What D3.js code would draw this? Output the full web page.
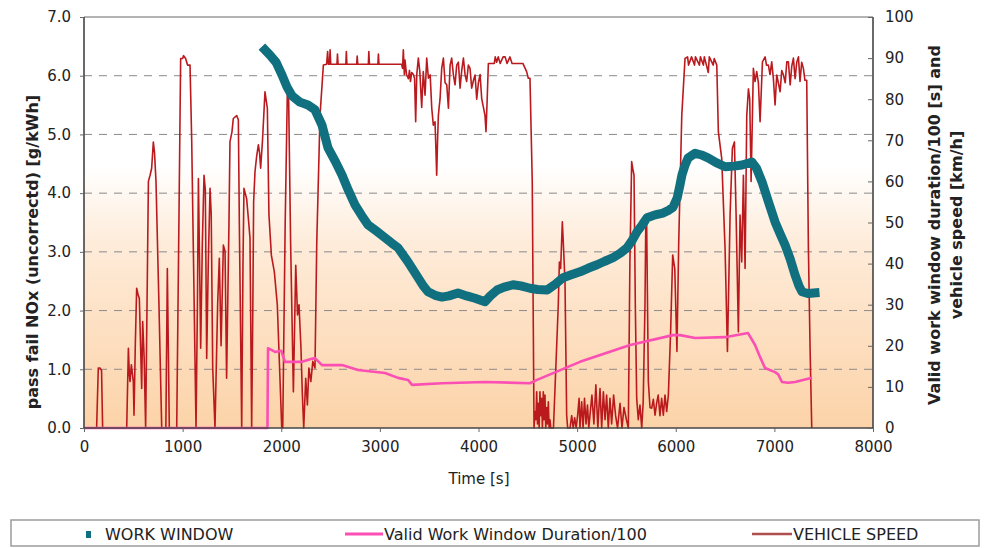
<!DOCTYPE html>
<html>
<head>
<meta charset="utf-8">
<script src="https://cdn.jsdelivr.net/npm/d3@7"></script>
<style>
  html, body { margin: 0; padding: 0; background: #ffffff; }
  svg { display: block; }
  text { font-family: "DejaVu Sans", Verdana, sans-serif; fill: #222; }
</style>
</head>
<body>
<svg id="chart" width="984" height="548"></svg>
<script>
// ---- axis tick labels ----
const timeTicks = [0, 1000, 2000, 3000, 4000, 5000, 6000, 7000, 8000];
const noxTicks = [0, 1, 2, 3, 4, 5, 6, 7];
const rightTicks = [0, 10, 20, 30, 40, 50, 60, 70, 80, 90, 100];

// ---- WORK WINDOW: pass/fail NOx [g/kWh] over time [s] ----
const workWindowTime = [1835, 1886, 1947, 2008, 2058, 2109, 2190, 2271, 2342, 2413, 2474, 2545, 2616, 2680, 2748, 2815, 2880, 2960, 3052, 3120, 3184, 3285, 3387, 3440, 3488, 3560, 3630, 3700, 3792, 3880, 3965, 4015, 4066, 4120, 4188, 4260, 4350, 4430, 4522, 4600, 4695, 4780, 4857, 4940, 5029, 5110, 5202, 5280, 5364, 5440, 5506, 5560, 5607, 5660, 5709, 5790, 5871, 5930, 5972, 6015, 6043, 6063, 6095, 6125, 6196, 6260, 6327, 6410, 6500, 6590, 6672, 6773, 6820, 6875, 6940, 7007, 7060, 7108, 7160, 7209, 7250, 7280, 7340, 7412];
const workWindowNox = [6.44, 6.35, 6.23, 6.01, 5.81, 5.66, 5.55, 5.50, 5.42, 5.16, 4.77, 4.55, 4.31, 4.05, 3.80, 3.62, 3.46, 3.36, 3.24, 3.15, 3.07, 2.83, 2.56, 2.42, 2.32, 2.26, 2.23, 2.25, 2.30, 2.25, 2.21, 2.18, 2.15, 2.25, 2.35, 2.40, 2.44, 2.42, 2.38, 2.36, 2.35, 2.45, 2.56, 2.61, 2.66, 2.72, 2.78, 2.84, 2.90, 2.98, 3.07, 3.20, 3.34, 3.46, 3.58, 3.63, 3.66, 3.71, 3.76, 3.92, 4.14, 4.31, 4.48, 4.60, 4.68, 4.65, 4.60, 4.52, 4.45, 4.46, 4.48, 4.53, 4.42, 4.19, 3.85, 3.51, 3.30, 3.12, 2.88, 2.61, 2.42, 2.32, 2.29, 2.30];

// ---- Valid Work Window Duration/100 [s] ----
const durationTime = [0, 1860, 1866, 1900, 1937, 2000, 2038, 2210, 2300, 2342, 2413, 2616, 2778, 3052, 3184, 3285, 3326, 3630, 4066, 4522, 4593, 5029, 5537, 5972, 6043, 6196, 6500, 6733, 6804, 6860, 6905, 7007, 7040, 7077, 7140, 7209, 7382];
const durationValue = [0, 0, 19.4, 19.0, 18.5, 18.8, 16.1, 16.1, 16.8, 17.0, 15.3, 15.3, 14.1, 13.4, 12.2, 11.7, 10.5, 10.9, 11.2, 10.9, 11.7, 16.1, 20.2, 22.6, 22.6, 21.9, 22.1, 23.1, 20.2, 17.0, 14.6, 13.6, 13.0, 11.2, 11.0, 11.2, 12.2];

// ---- VEHICLE SPEED [km/h]: [time s, speed] ----
const speedSeries = [
  [0, 0], [128, 0], [145, 14.6], [150, 14.6], [162, 14.6], [178, 14], [189, 0],
  [433, 0], [450, 19.4], [460, 13], [467, 11.3], [480, 15.4], [500, 11.3], [507, 3.1], [520, 20], [534, 34], [548, 32.5], [561, 31.5], [585, 9.6], [595, 25.9], [610, 17], [625, 0],
  [653, 60], [670, 61.5], [686, 63.2], [703, 69.6], [715, 67], [730, 60], [760, 30], [788, 0],
  [830, 0], [845, 38.8], [865, 0],
  [940, 0], [980, 89.9], [1000, 89.9], [1010, 90.6], [1030, 89.9], [1050, 88.3], [1075, 88.3], [1092, 70], [1136, 0],
  [1150, 30], [1160, 60.7], [1172, 40], [1183, 19.4], [1200, 45], [1217, 61.5], [1230, 58], [1244, 16.9], [1260, 40], [1278, 58.3], [1290, 52], [1305, 14.6], [1328, 0],
  [1355, 30], [1372, 41.3], [1390, 20], [1413, 44.5], [1430, 43], [1446, 12.1], [1470, 50], [1480, 69.6], [1500, 72], [1514, 75.3], [1548, 76], [1565, 75], [1575, 50], [1599, 0],
  [1612, 40], [1622, 58.3], [1649, 55.8], [1670, 50], [1683, 46.2], [1700, 0],
  [1712, 30], [1720, 55], [1734, 62.4], [1750, 66], [1768, 68.9], [1780, 67], [1791, 63.2], [1810, 70], [1835, 81.8], [1859, 77.8], [1875, 52], [1900, 42], [1930, 38], [1960, 30], [2005, 0],
  [2015, 0], [2040, 50], [2062, 82], [2075, 80], [2095, 45], [2123, 8.8], [2147, 39.6], [2165, 27.5], [2180, 30], [2200, 19.4], [2213, 8.8], [2228, 0], [2248, 12.1], [2265, 5.6], [2280, 14.6], [2300, 11.3], [2320, 16.2], [2342, 14.6], [2360, 45], [2393, 76], [2427, 88.3],
  [2460, 88.5], [2470, 91.6], [2478, 88.5], [2490, 88.5], [2495, 92], [2502, 88.5], [2565, 88.5], [2570, 91], [2576, 88.5], [2655, 88.5], [2660, 91.6], [2666, 88.5], [2765, 88.5], [2770, 90.5], [2776, 88.5], [2883, 88.5], [2888, 91.6], [2894, 88.5], [2980, 88.5], [2985, 91], [2991, 88.5], [3221, 88.5],
  [3230, 87.5], [3238, 92], [3248, 86], [3255, 89.5], [3270, 86], [3289, 85], [3300, 87], [3310, 84.3], [3323, 86.5], [3340, 86], [3352, 85], [3363, 74.5], [3374, 86], [3390, 90], [3405, 86.7], [3424, 78], [3440, 86.7], [3458, 81], [3475, 90], [3492, 85.1], [3510, 85.9], [3526, 77.8], [3542, 73.7], [3559, 74.5], [3568, 68], [3576, 61.5], [3585, 70], [3593, 76], [3600, 77.8], [3610, 80], [3627, 87.5], [3644, 90], [3661, 84], [3678, 83.5], [3695, 77.8], [3712, 88.3], [3728, 90], [3745, 86], [3762, 83.5], [3779, 88.3], [3796, 89], [3813, 82.7], [3830, 87], [3847, 90], [3864, 85.9], [3880, 84.3], [3897, 88.3], [3914, 87.5], [3931, 82.7], [3948, 84.5], [3965, 85.9], [3982, 80], [3999, 84], [4016, 86], [4033, 80], [4050, 78], [4066, 76], [4076, 72.1], [4088, 80], [4100, 88.7],
  [4160, 88.7], [4170, 90.3], [4184, 89], [4200, 90.3], [4220, 88.7], [4250, 90.3], [4270, 90.3], [4290, 88.7], [4319, 90.3], [4340, 88.7], [4400, 88.7], [4450, 88.7], [4488, 86.7], [4505, 85.1], [4522, 85.1], [4545, 60], [4563, 0],
  [4573, 4], [4582, 2], [4590, 8.8], [4598, 1], [4607, 6], [4615, 0], [4623, 8.8], [4632, 3], [4640, 7.2], [4648, 0], [4657, 8.8], [4665, 2], [4674, 8], [4682, 0], [4691, 5], [4700, 1], [4708, 6.4], [4716, 0], [4725, 2], [4733, 0], [4760, 0],
  [4809, 30], [4820, 40.4], [4833, 38.8], [4850, 50.2], [4860, 45], [4877, 35.6], [4894, 3.1], [4904, 0], [4928, 0],
  [4945, 3], [4960, 0], [4975, 2.5], [4990, 0], [5005, 3.1], [5020, 7.2], [5029, 0], [5046, 6.4], [5060, 0], [5075, 7.2], [5090, 1], [5105, 5.6], [5118, 0], [5130, 3], [5150, 8], [5170, 1], [5190, 10.5], [5210, 0], [5232, 9.6], [5249, 0], [5266, 8.8], [5283, 2], [5299, 8], [5316, 0], [5333, 7.2], [5350, 1], [5370, 8], [5390, 3], [5410, 0], [5435, 6], [5455, 0], [5475, 5], [5500, 2], [5519, 0],
  [5535, 40], [5553, 64.8], [5565, 63], [5577, 61.5], [5590, 30], [5604, 7.2], [5620, 2], [5637, 5.6], [5655, 0], [5670, 6.4], [5688, 30], [5697, 51.8], [5705, 50], [5722, 11.3], [5739, 5], [5756, 4.8], [5773, 7], [5790, 3.1], [5806, 6], [5822, 8], [5840, 3], [5857, 7.2], [5874, 3.1], [5891, 8], [5908, 4], [5925, 8], [5948, 23.4], [5969, 42.1], [5990, 38.8], [6012, 18.6], [6030, 45], [6061, 76], [6094, 89.9],
  [6120, 90.3], [6130, 88.3], [6160, 90.3], [6190, 88.3], [6200, 90.3], [6240, 88.3], [6250, 90.3], [6280, 88.3], [6290, 90.3], [6330, 86.5], [6340, 90.3], [6380, 88.3], [6390, 89.9], [6416, 88.3],
  [6432, 72.1], [6466, 65.6], [6500, 43.7], [6524, 18.6], [6551, 51.8], [6574, 68], [6595, 69.6], [6612, 51.8], [6635, 23.4], [6652, 51.8], [6669, 40.4], [6686, 61.5], [6703, 38.8], [6720, 76], [6737, 82.5], [6750, 80], [6764, 60], [6787, 87.5], [6804, 84.3], [6821, 86.7], [6838, 84], [6855, 74.5], [6879, 89.1], [6906, 90.3], [6920, 88.3], [6939, 88.3], [6956, 86], [6973, 89.1], [6990, 85], [7007, 78.6], [7024, 85.9], [7040, 84], [7058, 81.8], [7075, 87], [7092, 85.9], [7110, 84], [7126, 89.1], [7142, 89.1], [7160, 83.5], [7176, 88], [7193, 90], [7210, 85], [7227, 89], [7244, 90.3], [7260, 84.3], [7277, 89], [7294, 87.5], [7310, 84.6], [7328, 84.6], [7345, 43.7], [7362, 19.4], [7379, 0]
];

const legendLabels = ["WORK WINDOW", "Valid Work Window Duration/100", "VEHICLE SPEED"];

// ---- layout ----
const svg = d3.select("#chart");
const plotLeft = 84, plotRight = 873, plotTop = 17, plotBottom = 428;

const x = d3.scaleLinear().domain([0, 8000]).range([plotLeft, plotRight]);
const yL = d3.scaleLinear().domain([0, 7]).range([plotBottom, plotTop]);
const yR = d3.scaleLinear().domain([0, 100]).range([plotBottom, plotTop]);

const COL_WORK = "#11707f";
const COL_DUR = "#fb4fb4";
const COL_SPEED = "#ba1a1e";

// plot background: white at the top fading into a light orange
const defs = svg.append("defs");
const grad = defs.append("linearGradient")
  .attr("id", "bg").attr("x1", 0).attr("y1", 0).attr("x2", 0).attr("y2", 1);
[[0, "#ffffff"], [0.36, "#ffffff"], [0.55, "#feecda"], [0.75, "#fde0c3"], [1, "#fcd3a8"]]
  .forEach(([o, c]) => grad.append("stop").attr("offset", o).attr("stop-color", c));

svg.append("rect")
  .attr("x", plotLeft).attr("y", plotTop)
  .attr("width", plotRight - plotLeft).attr("height", plotBottom - plotTop)
  .attr("fill", "url(#bg)");

// dashed horizontal gridlines on the NOx axis
svg.append("g").selectAll("line")
  .data(noxTicks.filter(d => d > 0 && d < 7))
  .join("line")
  .attr("x1", plotLeft).attr("x2", plotRight)
  .attr("y1", d => yL(d)).attr("y2", d => yL(d))
  .attr("stroke", "#8a8a8a").attr("stroke-width", 1)
  .attr("stroke-dasharray", "8,7");

// top border
svg.append("line")
  .attr("x1", plotLeft).attr("x2", plotRight).attr("y1", plotTop).attr("y2", plotTop)
  .attr("stroke", "#9a9a9a").attr("stroke-width", 1.5);

// ---- series ----
const speedLine = d3.line().x(d => x(d[0])).y(d => yR(d[1]));
svg.append("path")
  .datum(speedSeries)
  .attr("d", speedLine)
  .attr("fill", "none")
  .attr("stroke", COL_SPEED).attr("stroke-width", 1.6)
  .attr("stroke-linejoin", "round");

const durLine = d3.line().x(d => x(d[0])).y(d => yR(d[1]));
svg.append("path")
  .datum(d3.zip(durationTime, durationValue))
  .attr("d", durLine)
  .attr("fill", "none")
  .attr("stroke", COL_DUR).attr("stroke-width", 2.6)
  .attr("stroke-linejoin", "round");

const workLine = d3.line().x(d => x(d[0])).y(d => yL(d[1]));
svg.append("path")
  .datum(d3.zip(workWindowTime, workWindowNox))
  .attr("d", workLine)
  .attr("fill", "none")
  .attr("stroke", COL_WORK).attr("stroke-width", 9)
  .attr("stroke-linejoin", "round").attr("stroke-linecap", "square");

// ---- axes ----
const fmt1 = d3.format(".1f");

const xAxis = svg.append("g")
  .attr("transform", `translate(0,${plotBottom})`)
  .call(d3.axisBottom(x).tickValues(timeTicks).tickSize(4).tickPadding(9).tickFormat(d3.format("d")));

const yAxisL = svg.append("g")
  .attr("transform", `translate(${plotLeft},0)`)
  .call(d3.axisLeft(yL).tickValues(noxTicks).tickSize(4).tickPadding(9).tickFormat(fmt1));

const yAxisR = svg.append("g")
  .attr("transform", `translate(${plotRight},0)`)
  .call(d3.axisRight(yR).tickValues(rightTicks).tickSize(-5).tickPadding(12).tickFormat(d3.format("d")));

[xAxis, yAxisL, yAxisR].forEach(g => {
  g.select(".domain").attr("stroke", "#444").attr("stroke-width", 1.6);
  g.selectAll(".tick line").attr("stroke", "#666");
  g.selectAll(".tick text")
    .attr("font-family", "'DejaVu Sans', Verdana, sans-serif")
    .attr("font-size", 15).attr("fill", "#2a2a2a");
});
yAxisL.select(".domain").attr("d", `M0,${plotTop}V${plotBottom}`);
yAxisR.select(".domain").attr("d", `M0,${plotTop}V${plotBottom}`);
xAxis.select(".domain").attr("d", `M${plotLeft},0H${plotRight}`);

// ---- axis titles ----
svg.append("text")
  .attr("x", 479).attr("y", 484)
  .attr("text-anchor", "middle")
  .attr("font-size", 15).attr("fill", "#2a2a2a")
  .text("Time [s]");

svg.append("text")
  .attr("transform", "translate(38,252) rotate(-90)")
  .attr("text-anchor", "middle")
  .attr("font-size", 16).attr("font-weight", "bold").attr("fill", "#2a2a2a")
  .text("pass fail NOx (uncorrectd) [g/kWh]");

const rt = svg.append("text")
  .attr("transform", "translate(940,225) rotate(-90)")
  .attr("text-anchor", "middle")
  .attr("font-size", 16).attr("font-weight", "bold").attr("fill", "#2a2a2a");
rt.append("tspan").attr("x", 0).attr("dy", 0).text("Valid work window duration/100 [s] and");
rt.append("tspan").attr("x", 0).attr("dy", 22).text("vehicle speed [km/h]");

// ---- legend ----
const lg = svg.append("g");
lg.append("rect")
  .attr("x", 11).attr("y", 520).attr("width", 968).attr("height", 26)
  .attr("fill", "#ffffff").attr("stroke", "#9c9c9c").attr("stroke-width", 1.5);

const legendFont = "'DejaVu Sans Condensed', 'DejaVu Sans', sans-serif";

lg.append("rect")
  .attr("x", 86).attr("y", 531).attr("width", 5).attr("height", 7)
  .attr("fill", COL_WORK);
lg.append("text")
  .attr("x", 105).attr("y", 540)
  .attr("font-family", legendFont).attr("font-size", 16).attr("fill", "#2a2a2a")
  .text(legendLabels[0]);

lg.append("line")
  .attr("x1", 345).attr("x2", 383).attr("y1", 534).attr("y2", 534)
  .attr("stroke", COL_DUR).attr("stroke-width", 3);
lg.append("text")
  .attr("x", 384).attr("y", 540)
  .attr("font-family", legendFont).attr("font-size", 16).attr("fill", "#2a2a2a")
  .text(legendLabels[1]);

lg.append("line")
  .attr("x1", 752).attr("x2", 792).attr("y1", 534).attr("y2", 534)
  .attr("stroke", "#b04d4f").attr("stroke-width", 2.5);
lg.append("text")
  .attr("x", 793).attr("y", 540)
  .attr("font-family", legendFont).attr("font-size", 16).attr("fill", "#2a2a2a")
  .text(legendLabels[2]);
</script>
</body>
</html>
